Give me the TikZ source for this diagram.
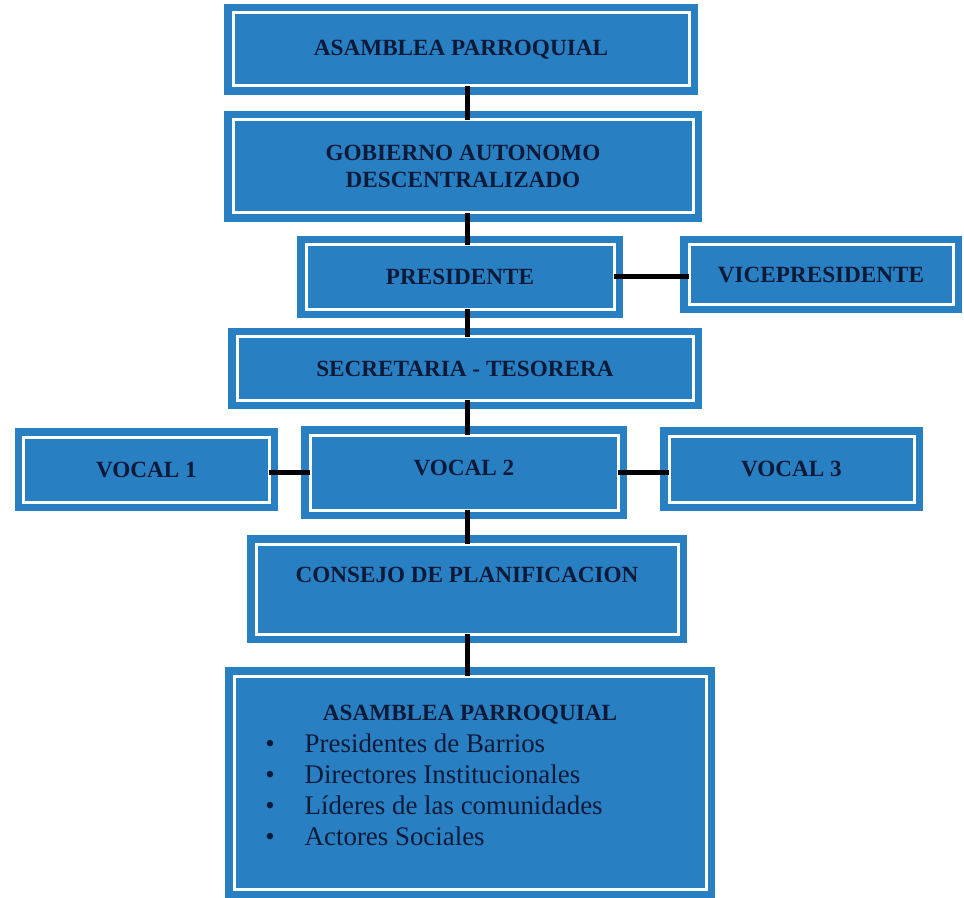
\documentclass[tikz,border=0pt]{standalone}
\usepackage{fontspec}
\setmainfont{Liberation Serif}
\usetikzlibrary{positioning}
\definecolor{orgblue}{RGB}{40,127,193}
\definecolor{navy}{RGB}{12,26,58}

\begin{document}
\begin{tikzpicture}

\tikzset{box/.style = {rectangle, fill=orgblue, inner sep=0pt, outer sep=0pt, text=navy, align=center,
  font=\bfseries\fontsize{13.2}{15.8}\selectfont,
  path picture={\draw[white, line width=0.06cm] ([shift={(0.18,0.18)}]path picture bounding box.south west) rectangle ([shift={(-0.18,-0.18)}]path picture bounding box.north east);}}}
\tikzset{link/.style = {draw=black, line width=0.1cm, shorten <=-0.18cm, shorten >=-0.18cm}}
\tikzset{lst/.style = {text=navy, inner sep=0pt, font=\fontsize{15.3}{17.6}\selectfont}}

\useasboundingbox (0,0) rectangle (19.28,-17.96);
\coordinate (spine) at (9.34,0);

%boxes
\node[box, minimum width=9.48cm, minimum height=1.82cm] (asam) at (9.22,-0.99) {ASAMBLEA PARROQUIAL};
\node[box, minimum width=9.56cm, minimum height=2.22cm] (gad) at (9.26,-3.33) {GOBIERNO AUTONOMO\\DESCENTRALIZADO};
\node[box, minimum width=6.52cm, minimum height=1.64cm] (pres) at (9.20,-5.54) {PRESIDENTE};
\node[box, minimum width=5.64cm, minimum height=1.54cm, text depth=-0.1cm] (vice) at (16.42,-5.49) {VICEPRESIDENTE};
\node[box, minimum width=9.48cm, minimum height=1.62cm] (secr) at (9.30,-7.37) {SECRETARIA - TESORERA};
\node[box, minimum width=5.26cm, minimum height=1.66cm] (voc1) at (2.93,-9.39) {VOCAL 1};
\node[box, minimum width=6.52cm, minimum height=1.86cm, text depth=0.2cm] (voc2) at (9.28,-9.45) {VOCAL 2};
\node[box, minimum width=5.26cm, minimum height=1.68cm] (voc3) at (15.83,-9.38) {VOCAL 3};
\node[box, minimum width=8.80cm, minimum height=2.16cm] (cons) at (9.34,-11.78) {CONSEJO DE PLANIFICACION\\ ~};
\node[box, minimum width=9.80cm, minimum height=4.62cm] (base) at (9.40,-15.65) {};

%text of the last box
\node[box, fill=none, path picture={}, below=0.77cm of base.north] (baseh) {ASAMBLEA PARROQUIAL};
\node[lst, anchor=north west] (basel) at (5.30,-14.61) {%
  \begin{tabular}{@{}l@{\hspace{0.6cm}}l@{}}
  \textbullet & Presidentes de Barrios\\
  \textbullet & Directores Institucionales\\
  \textbullet & Líderes de las comunidades\\
  \textbullet & Actores Sociales
  \end{tabular}};

%edges
\draw[link] (asam.south -| spine) -- (gad.north -| spine);
\draw[link] (gad.south -| spine) -- (pres.north -| spine);
\draw[link] (pres.south -| spine) -- (secr.north -| spine);
\draw[link] (secr.south -| spine) -- (voc2.north -| spine);
\draw[link] (voc2.south -| spine) -- (cons.north -| spine);
\draw[link] (cons.south -| spine) -- (base.north -| spine);
\draw[link] (pres.east) -- (pres.east -| vice.west);
\draw[link] (voc2.west) -- (voc2.west -| voc1.east);
\draw[link] (voc2.east) -- (voc2.east -| voc3.west);

\end{tikzpicture}
\end{document}
